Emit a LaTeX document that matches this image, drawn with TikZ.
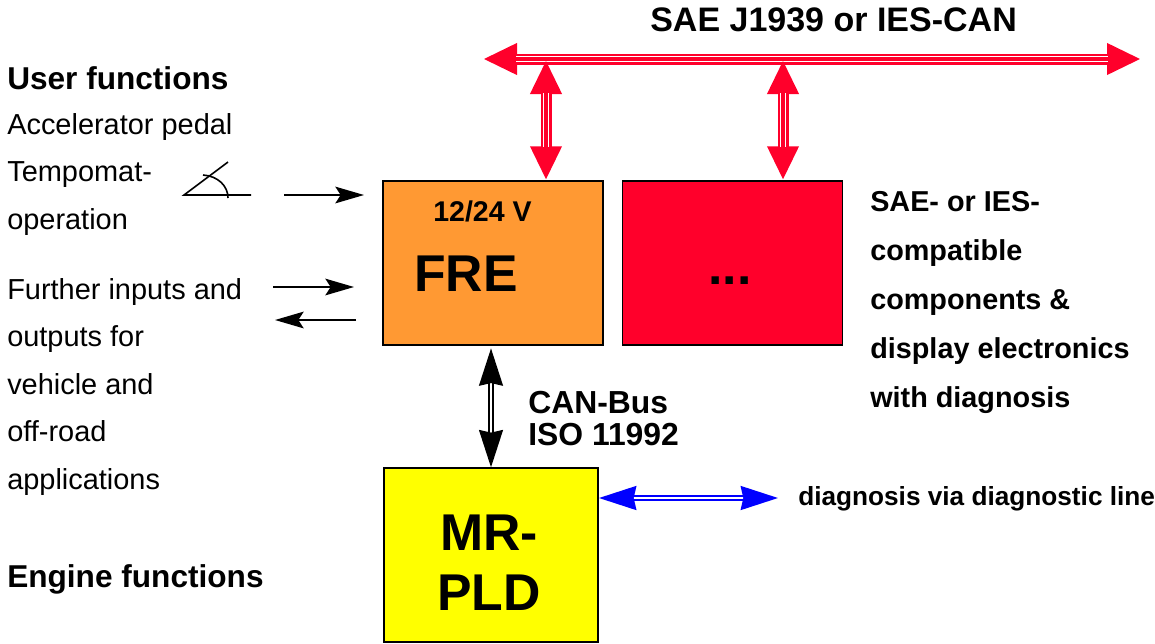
\documentclass[tikz,border=0pt]{standalone}
\usepackage{fontspec}
\setmainfont{Liberation Sans}
\usetikzlibrary{arrows.meta,positioning}
\definecolor{busred}{RGB}{255,0,43}
\definecolor{freorange}{RGB}{255,153,51}
\definecolor{diagblue}{RGB}{0,0,255}
\definecolor{pldyellow}{RGB}{255,255,0}
\tikzset{
  unit box/.style={draw=black,line width=1.1pt,minimum width=#1,inner sep=0pt},
  plain text/.style={anchor=base west,inner sep=0pt,align=left,
    font=\fontsize{21.7}{35.6}\selectfont},
  head text/.style={anchor=base west,inner sep=0pt,align=left,
    font=\bfseries\fontsize{23.7}{35.6}\selectfont},
  side text/.style={anchor=base west,inner sep=0pt,align=left,
    font=\bfseries\fontsize{21.6}{36.6}\selectfont},
  signal/.style={draw=black,line width=1.2pt,-{Stealth[length=21.5pt,width=12.5pt,inset=4pt]}},
  busline/.style={draw=busred,line width=8.25pt,
    {Triangle[length=25.5pt,width=22pt]}-{Triangle[length=25.5pt,width=22pt]},
    postaction={draw=white,double=busred,line width=.9pt,double distance=2.6pt,
      arrows=-,shorten >=25pt,shorten <=25pt}},
  canline/.style={draw=black,line width=1.1pt,double=white,double distance=2.1pt,
    {Stealth[length=28pt,width=18pt,inset=2pt]}-{Stealth[length=28pt,width=18pt,inset=2pt]}},
  diagline/.style={draw=diagblue,line width=1.6pt,double=white,double distance=1.6pt,
    {Stealth[length=28pt,width=18pt,inset=2pt]}-{Stealth[length=28pt,width=18pt,inset=2pt]}}
}
\begin{document}
\begin{tikzpicture}[x=.75pt,y=-.75pt]
\useasboundingbox (0,0) rectangle (1155,643);

% control units
\node[unit box=165pt,minimum height=123pt,fill=freorange] (fre) at (493,263) {};
\node[unit box=165pt,minimum height=123pt,fill=busred] (comp) at (732.5,263) {};
\node[unit box=160.5pt,minimum height=130.5pt,fill=pldyellow] (mrpld) at (491,555) {};

% texts
\node[head text] (bustext) at (650,31) {\fontsize{25.5}{30}\selectfont SAE J1939 or IES-CAN};
\node[head text] (usertext) at (7,89) {User functions};
\node[plain text] (pedaltext) at (7,229) {Accelerator pedal\\Tempomat-\\operation};
\node[plain text] (furthertext) at (7,489) {Further inputs and\\outputs for\\vehicle and\\off-road\\applications};
\node[head text] (enginetext) at (7,587) {Engine functions};
\node[side text] (sidetext) at (870,407) {SAE- or IES-\\compatible\\components \&\\display electronics\\with diagnosis};
\node[anchor=base west,inner sep=0pt,font=\bfseries\fontsize{21.4}{24}\selectfont] (volt) at (433,221) {12/24 V};
\node[anchor=base west,inner sep=0pt,font=\bfseries\fontsize{38.8}{48}\selectfont] (fretext) at (414,291) {FRE};
\node[anchor=base west,inner sep=0pt,font=\bfseries\fontsize{38.8}{48}\selectfont] (dots) at (708,284) {...};
\node[anchor=base,inner sep=0pt,align=center,font=\bfseries\fontsize{38.8}{45}\selectfont] (mrtext) at (489,610) {MR-\\PLD};
\node[anchor=base west,inner sep=0pt,align=left,font=\bfseries\fontsize{23.9}{23.3}\selectfont] (cantext) at (528,445) {CAN-Bus\\ISO 11992};
\node[anchor=base west,inner sep=0pt,font=\bfseries\fontsize{19.65}{22}\selectfont] (diagtext) at (798,505) {diagnosis via diagnostic line};

% free ends
\coordinate (busleft) at (483,59);
\coordinate (busright) at (1141,59);
\coordinate (tapfre) at (546,60);
\coordinate (tapcomp) at (783,60);
\coordinate (diagstart) at (599,498);
\coordinate (diagend) at (778,498);
\coordinate (pedalin) at (284,195);
\coordinate (furtherin) at (273,287);
\coordinate (furtherout) at (356,320);
\coordinate (pedalend) at (364,195);
\coordinate (furtherinend) at (354,287);
\coordinate (furtheroutend) at (275,320);

% buses
\draw[busline] (busleft) -- (busright);
\draw[busline] (tapfre) -- (tapfre |- fre.north);
\draw[busline] (tapcomp) -- (tapcomp |- comp.north);
\draw[canline,shorten <=2pt] (mrpld.north |- fre.south) -- (mrpld.north);
\draw[diagline] (diagstart) -- (diagend);

% signals
\draw[signal] (pedalin) -- (pedalend);
\draw[signal] (furtherin) -- (furtherinend);
\draw[signal] (furtherout) -- (furtheroutend);

% pedal symbol
\draw[line width=1.2pt] (228,162) -- (184,195) -- (251,195);
\draw[line width=1.2pt] (203,175) .. controls (218,176) and (228,186) .. (228,198);
\end{tikzpicture}
\end{document}
